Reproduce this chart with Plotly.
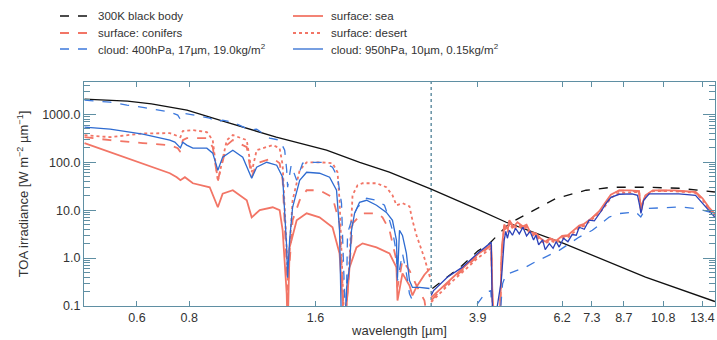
import plotly.graph_objects as go

# ---------------- data ----------------
wl_sun = [0.45, 0.5, 0.57, 0.65, 0.79, 0.98, 1.29, 1.7, 2.04, 2.4, 3.02, 3.9, 4.56, 6.25, 9.8, 14.35]
sun = [2090, 1990, 1900, 1650, 1230, 690, 335, 179, 100, 62, 27.4, 10.4, 5.6, 2.03, 0.40, 0.124]

wl_bb = [3.04, 3.3, 3.58, 3.9, 4.16, 4.64, 5.18, 6.0, 7.07, 8.16, 9.83, 11.78, 14.35]
bb = [0.232, 0.40, 0.70, 1.4, 2.03, 5.3, 9.0, 17.7, 26.1, 30.1, 30.1, 28.7, 24.0]

# surface: sea (solar part, then thermal part)
wl_sea = [0.45, 0.518, 0.62, 0.719, 0.747, 0.762, 0.781, 0.816, 0.895, 0.936, 0.961, 1.016, 1.097,
          1.127, 1.178, 1.265, 1.314, 1.336, 1.366, 1.373, 1.388, 1.443, 1.524, 1.636, 1.757, 1.826,
          1.857, 1.877, 1.929, 2.004, 2.072, 2.237, 2.403, 2.496, 2.51, 2.58, 2.681, 2.725, 2.786,
          2.91, 3.0, None,
          3.02, 3.28, 3.58, 3.9, 4.15, 4.2, 4.23, 4.3, 4.4, 4.45, 4.51, 4.6, 4.64, 4.75, 4.85, 5.0,
          5.1, 5.2, 5.37, 5.5, 5.65, 5.8, 6.0, 6.2, 6.4, 6.6, 6.81, 7.0, 7.32, 7.6, 7.9, 8.1, 8.48,
          9.0, 9.46, 9.56, 9.63, 9.8, 10.2, 11.5, 12.9, 13.4, 13.88, 14.35]
sea = [251, 163, 95.7, 59, 48.8, 42.2, 48.8, 36.5, 30.1, 11.5, 22.2, 26.1, 16.1,
       7.1, 10, 11.5, 10, 3.8, 0.18, 0.03, 1.67, 6.15, 8.6, 7.1, 4.39, 1.25,
       0.13, 0.03, 0.64, 1.67, 2.03, 1.67, 1.25, 0.64, 0.13, 0.48, 0.268, 0.166, 0.25,
       0.45, 0.6, None,
       0.15, 0.3, 0.6, 1.2, 1.8, 1.9, 0.15, 0.03, 0.03, 1.5, 5.0, 4.0, 6.2, 4.5, 5.6, 4.6,
       5.0, 3.5, 3.3, 2.6, 2.2, 2.6, 2.3, 2.9, 3.0, 3.8, 4.8, 5.2, 7.0, 9.5, 15, 21, 26,
       26, 25, 10, 14, 20.5, 26, 26, 24, 17.7, 11.5, 8.3]

# surface: conifers
wl_con = [0.45, 0.518, 0.62, 0.719, 0.751, 0.762, 0.772, 0.789, 0.816, 0.881, 0.91, 0.936, 0.983,
          1.016, 1.097, 1.127, 1.158, 1.265, 1.314, 1.336, 1.366, 1.373, 1.411, 1.467, 1.524, 1.636,
          1.757, 1.826, 1.857, 1.877, 1.929, 1.961, 2.072, 2.237, 2.312, 2.403, 2.496, 2.51, 2.58,
          2.681, 2.786, 2.911, 2.96, None,
          3.02, 3.28, 3.58, 3.9, 4.15, 4.2, 4.23, 4.3, 4.4, 4.45, 4.51, 4.6, 4.64, 4.75, 4.85, 5.0,
          5.1, 5.2, 5.37, 5.5, 5.65, 5.8, 6.0, 6.2, 6.4, 6.6, 6.81, 7.0, 7.32, 7.6, 7.9, 8.1, 8.48,
          9.0, 9.46, 9.56, 9.63, 9.8, 10.2, 11.5, 12.9, 13.4, 13.88, 14.35]
con = [335, 290, 251, 228, 197, 163, 290, 320, 319, 319, 207, 42.2, 228,
       290, 207, 48.8, 95.7, 122, 95.7, 42.2, 0.64, 0.21, 6.15, 16.1, 26.1, 26.1,
       18.6, 5.32, 0.244, 0.03, 0.7, 5.32, 8.6, 8.6, 7.1, 3.8, 0.895, 0.244, 0.895,
       0.553, 0.268, 0.13, 0.05, None,
       0.13, 0.28, 0.55, 1.1, 1.7, 1.8, 0.12, 0.03, 0.03, 1.3, 4.6, 3.8, 5.8, 4.2, 5.2, 4.4,
       4.6, 3.3, 3.1, 2.5, 2.1, 2.5, 2.2, 2.8, 2.9, 3.6, 4.6, 5.0, 6.8, 9.2, 14.5, 20.5, 25.5,
       25.5, 24.5, 10, 13.5, 20, 25.5, 25.5, 23.5, 17, 11, 8]

# surface: desert
wl_des = [0.45, 0.518, 0.62, 0.719, 0.762, 0.772, 0.816, 0.881, 0.91, 0.936, 0.983, 1.016, 1.097,
          1.127, 1.158, 1.265, 1.314, 1.336, 1.366, 1.373, 1.411, 1.467, 1.524, 1.636, 1.757, 1.806,
          1.826, 1.857, 1.877, 1.929, 1.961, 2.016, 2.072, 2.237, 2.362, 2.442, 2.496, 2.58, 2.681,
          2.725, 2.786, 2.91, 3.0, None,
          3.02, 3.28, 3.58, 3.9, 4.15, 4.2, 4.23, 4.3, 4.4, 4.45, 4.51, 4.6, 4.64, 4.75, 4.85, 5.0,
          5.1, 5.2, 5.37, 5.5, 5.65, 5.8, 6.0, 6.2, 6.4, 6.6, 6.81, 7.0, 7.32, 7.6, 7.9, 8.1, 8.48,
          9.0, 9.46, 9.56, 9.63, 9.8, 10.2, 11.5, 12.9, 13.4, 13.88, 14.35]
des = [369, 335, 400, 406, 335, 450, 470, 427, 290, 40, 290, 369, 290,
       62, 179, 228, 197, 87, 1.45, 0.34, 16.1, 68, 100, 100, 95.7, 62,
       16.1, 0.34, 0.03, 0.9, 20.5, 33.2, 36.5, 36.5, 30.1, 20.5, 12.7, 14, 12,
       6.15, 3.0, 1.0, 0.4, None,
       0.12, 0.25, 0.5, 1.0, 1.5, 1.6, 0.1, 0.03, 0.03, 1.2, 4.2, 3.5, 5.3, 3.9, 4.8, 4.0,
       4.3, 3.1, 2.9, 2.3, 2.0, 2.3, 2.1, 2.6, 2.7, 3.4, 4.3, 4.7, 6.4, 8.6, 13, 18, 23,
       23.5, 24, 9.5, 13, 19.5, 25, 25, 23, 16.5, 10.5, 7.8]

# cloud: 400hPa, 17um, 19.0kg/m2
wl_c400 = [0.45, 0.518, 0.568, 0.62, 0.719, 0.751, 0.762, 0.781, 0.848, 0.895, 0.93, 0.961, 1.016,
           1.115, 1.158, 1.244, 1.314, 1.351, 1.366, 1.373, 1.40, 1.443, 1.491, 1.549, 1.663, 1.757,
           1.806, 1.846, 1.857, 1.877, 1.89, 1.908, 1.961, 2.016, 2.118, 2.237, 2.337, 2.403, 2.442,
           2.496, 2.51, 2.58, 2.636, 2.681, 2.725, 2.786, None,
           3.02, 3.8, 3.9, 4.07, 4.19, 4.23, 4.4, 4.47, 4.55, 4.72, 5.08, 5.37, 5.65, 6.1, 6.81,
           7.32, 8.03, 8.48, 9.29, 9.45, 9.55, 9.65, 9.81, 11.78, 13.0, 13.88, 14.35]
c400 = [1991, 1800, 1566, 1400, 1117, 966, 780, 1040, 920, 837, 690, 760, 690,
        470, 492, 319, 290, 179, 68, 30.1, 87, 42.2, 95.7, 100, 100, 79,
        48.8, 13.9, 2.71, 0.34, 0.03, 3.29, 7.1, 11.5, 17.7, 16.1, 12.7, 6.15, 3.8,
        1.25, 0.34, 1.25, 0.48, 0.18, 0.13, 0.05, None,
        0.03, 0.08, 0.113, 0.19, 0.21, 0.05, 0.05, 0.29, 0.45, 0.51, 0.65, 0.85, 1.05, 1.45, 2.75,
        3.8, 7.2, 8.5, 9.2, 8.0, 7.2, 8.5, 10.8, 11.7, 10.8, 9.2, 8.5]

# cloud: 950hPa, 10um, 0.15kg/m2
wl_c950 = [0.45, 0.518, 0.62, 0.719, 0.739, 0.762, 0.772, 0.789, 0.816, 0.881, 0.91, 0.936, 0.961,
           1.016, 1.073, 1.127, 1.158, 1.224, 1.293, 1.336, 1.366, 1.373, 1.388, 1.411, 1.467, 1.524,
           1.636, 1.729, 1.796, 1.826, 1.846, 1.877, 1.898, 1.929, 1.95, 1.983, 2.038, 2.118, 2.237,
           2.362, 2.442, 2.496, 2.51, 2.538, 2.58, 2.636, 2.681, 2.725, 2.832, 2.992, None,
           3.02, 3.06, 3.3, 3.58, 3.93, 4.2, 4.22, 4.25, 4.44, 4.51, 4.55, 4.59, 4.64, 4.72, 4.8,
           4.9, 5.0, 5.1, 5.2, 5.3, 5.37, 5.45, 5.57, 5.65, 5.78, 5.9, 6.0, 6.1, 6.25, 6.4, 6.55,
           6.7, 6.81, 7.0, 7.19, 7.4, 7.68, 7.9, 8.11, 8.48, 9.1, 9.38, 9.5, 9.56, 9.62, 9.7, 10.0,
           11.78, 12.9, 13.4, 13.88, 14.35]
c950 = [542, 492, 387, 290, 263, 200, 263, 228, 197, 197, 155, 68, 128,
        179, 128, 46.5, 79, 100, 87, 48.8, 1.67, 0.39, 2.35, 11.5, 42.2, 62,
        59, 48.8, 26.1, 3.8, 0.03, 0.03, 0.244, 0.64, 3.8, 8.6, 14.6, 16.1, 12.7,
        9.0, 6.15, 2.35, 0.39, 3.8, 2.98, 1.25, 0.341, 0.244, 0.244, 0.232, None,
        0.166, 0.21, 0.40, 0.64, 1.34, 2.13, 0.15, 0.03, 0.34, 2.35, 3.6, 2.6, 3.8, 3.0, 4.2,
        3.2, 4.4, 2.9, 3.6, 2.4, 3.0, 1.9, 2.4, 1.5, 2.0, 1.6, 2.2, 1.7, 2.6, 2.2, 3.1,
        3.0, 4.4, 4.0, 6.2, 6.0, 9.5, 14, 18.6, 21.5, 22, 20.5, 12, 8.6, 11, 16.1, 22,
        22, 20.5, 13.9, 10, 7.1]

split_wl = [3.02, 3.02]
split_val = [0.1, 4740]

x_ticks = [0.6, 0.8, 1.6, 3.9, 6.2, 7.3, 8.7, 10.8, 13.4]
x_ticktext = ["0.6", "0.8", "1.6", "3.9", "6.2", "7.3", "8.7", "10.8", "13.4"]

legend_names = ["300K black body", "surface: conifers", "cloud: 400hPa, 17µm, 19.0kg/m<sup>2</sup>",
                "surface: sea", "surface: desert", "cloud: 950hPa, 10µm, 0.15kg/m<sup>2</sup>"]

# ---------------- styles ----------------
RED = "#f27566"
BLUE = "#2e6bd1"
BLUE_TH = "#2b41b8"
BLUE_D = "#3c78dc"
AX = "#5f8fa3"
FONT = "Liberation Sans, Arial, sans-serif"

W, H = 717, 340
L, R, T, B = 84, 2, 82, 34
PW, PH = W - L - R, H - T - B


def px(xp):
    return (xp - L) / PW


def py(yp):
    return (H - B - yp) / PH


fig = go.Figure()
fig.add_trace(go.Scatter(x=split_wl, y=split_val, mode="lines", showlegend=False,
                         line=dict(color="#4d7f96", width=1.3, dash="dot"), hoverinfo="skip"))
fig.add_trace(go.Scatter(x=wl_sun, y=sun, mode="lines", showlegend=False,
                         line=dict(color="#111111", width=1.3)))

styles = {
    "bb": dict(color="#111111", width=1.3, dash="dash"),
    "sea": dict(color=RED, width=1.8),
    "con": dict(color=RED, width=1.8, dash="dash"),
    "des": dict(color=RED, width=1.8, dash="dot"),
    "c400": dict(color=BLUE_D, width=1.3, dash="dash"),
    "c950": dict(color=BLUE, width=1.3),
}

fig.add_trace(go.Scatter(x=wl_bb, y=bb, mode="lines", name=legend_names[0], showlegend=False, line=styles["bb"]))
fig.add_trace(go.Scatter(x=wl_sea, y=sea, mode="lines", name=legend_names[3], showlegend=False, line=styles["sea"]))
fig.add_trace(go.Scatter(x=wl_con, y=con, mode="lines", name=legend_names[1], showlegend=False, line=styles["con"]))
fig.add_trace(go.Scatter(x=wl_des, y=des, mode="lines", name=legend_names[4], showlegend=False, line=styles["des"]))
fig.add_trace(go.Scatter(x=wl_c400, y=c400, mode="lines", name=legend_names[2], showlegend=False, line=styles["c400"]))

# thin cloud: solar part and thermal part drawn in slightly different blues
cut = wl_c950.index(None)
fig.add_trace(go.Scatter(x=wl_c950[:cut], y=c950[:cut], mode="lines", name=legend_names[5],
                         showlegend=False, line=styles["c950"]))
fig.add_trace(go.Scatter(x=wl_c950[cut + 1:], y=c950[cut + 1:], mode="lines", name=legend_names[5],
                         showlegend=False, line=dict(color=BLUE_TH, width=1.3)))

# custom two-column legend
legend_layout = [
    (legend_names[0], styles["bb"], 60, 16),
    (legend_names[1], styles["con"], 60, 33),
    (legend_names[2], styles["c400"], 60, 49),
    (legend_names[3], styles["sea"], 293, 16),
    (legend_names[4], styles["des"], 293, 33),
    (legend_names[5], styles["c950"], 293, 49),
]
for name, st, x0, y0 in legend_layout:
    fig.add_shape(type="line", xref="paper", yref="paper", x0=px(x0), x1=px(x0 + 30),
                  y0=py(y0), y1=py(y0), line=st)
    fig.add_annotation(xref="paper", yref="paper", x=px(x0 + 36), y=py(y0), text=name,
                       showarrow=False, xanchor="left", yanchor="middle",
                       font=dict(size=11.5, color="#333333", family=FONT))

fig.update_layout(
    width=W, height=H,
    margin=dict(l=L, r=R, t=T, b=B, autoexpand=False),
    paper_bgcolor="white", plot_bgcolor="white",
    font=dict(family=FONT, size=12, color="#333333"),
    showlegend=False,
    xaxis=dict(type="log", range=[-0.348, 1.157], tickmode="array", tickvals=x_ticks,
               ticktext=x_ticktext, ticks="inside", ticklen=5, tickcolor=AX,
               tickfont=dict(size=12.5),
               showline=True, linecolor=AX, linewidth=1.2, mirror="ticks", showgrid=False,
               zeroline=False,
               title=dict(text="wavelength [µm]", standoff=1, font=dict(size=13))),
    yaxis=dict(type="log", range=[-1, 3.676], tickmode="linear", tick0=0, dtick=1,
               tickformat=".1f", ticks="inside", ticklen=12, tickcolor=AX,
               tickfont=dict(size=12.5),
               minor=dict(ticks="inside", ticklen=6, tickcolor=AX, dtick="D1", showgrid=False),
               showline=True, linecolor=AX, linewidth=1.2, mirror="ticks", showgrid=False,
               zeroline=False,
               title=dict(text="TOA irradiance [W m<sup>−2</sup> µm<sup>−1</sup>]", standoff=10,
                          font=dict(size=13))),
)

fig.write_html("out.html", config={"displayModeBar": False},
               post_script="document.body.style.margin='0px';")
